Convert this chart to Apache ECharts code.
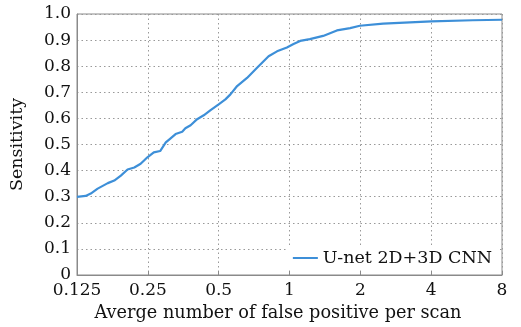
<!DOCTYPE html>
<html>
<head>
<meta charset="UTF-8">
<script src="https://cdn.jsdelivr.net/npm/echarts@6/dist/echarts.min.js"></script>
<style>
html,body{margin:0;padding:0;background:#fff;}
#chart{width:521px;height:327px;}
</style>
</head>
<body>
<div id="chart"></div>
<script>
// false positives per scan (log2 axis) and sensitivity
var fpPerScan = [0.125,0.136,0.143,0.153,0.169,0.180,0.192,0.205,0.219,0.233,0.249,0.265,0.282,0.298,0.307,0.328,0.350,0.361,0.380,0.405,0.432,0.462,0.500,0.534,0.561,0.599,0.660,0.728,0.776,0.815,0.885,0.975,1.04,1.11,1.22,1.39,1.59,1.81,1.99,2.50,3.25,4.01,6.01,8];
var sensitivity = [0.299,0.303,0.312,0.331,0.352,0.362,0.381,0.404,0.412,0.426,0.451,0.470,0.475,0.508,0.518,0.540,0.549,0.562,0.574,0.597,0.612,0.632,0.654,0.673,0.692,0.724,0.755,0.794,0.819,0.838,0.857,0.872,0.885,0.897,0.904,0.916,0.937,0.946,0.955,0.963,0.968,0.972,0.976,0.978];
var xTicks = ['0.125','0.25','0.5','1','2','4','8'];
var seriesName = 'U-net 2D+3D CNN';

var font = 'DejaVu Serif';
var points = [];
for (var i = 0; i < fpPerScan.length; i++) {
	points.push([fpPerScan[i], sensitivity[i]]);
}

var chart = echarts.init(document.getElementById('chart'));
chart.setOption({
	animation: false,
	grid: {
		left: 76, right: 19, top: 14, bottom: 50,
		show: true, borderColor: '#8a8a8a', borderWidth: 1
	},
	legend: {
		data: [seriesName],
		right: 23, bottom: 57,
		backgroundColor: '#fff',
		padding: [3, 6, 3, 4],
		itemWidth: 25, itemHeight: 2, itemGap: 2,
		textStyle: {fontFamily: font, fontSize: 17.5, color: '#111'}
	},
	xAxis: {
		type: 'log', logBase: 2, min: 0.125, max: 8,
		name: 'Averge number of false positive per scan',
		nameLocation: 'middle', nameGap: 29,
		nameTextStyle: {fontFamily: font, fontSize: 17.7, color: '#111', padding: [0, 23, 0, 0]},
		axisLine: {show: true, lineStyle: {color: '#8a8a8a'}},
		axisTick: {show: true, inside: true, length: 4, lineStyle: {color: '#8a8a8a'}},
		axisLabel: {
			fontFamily: font, fontSize: 17, color: '#111', margin: 7,
			formatter: function (v) {
				var k = Math.round(Math.log(v) / Math.log(2)) + 3;
				return xTicks[k] || '';
			}
		},
		splitLine: {show: true, lineStyle: {type: [1.5, 3], color: '#999'}}
	},
	yAxis: {
		type: 'value', min: 0, max: 1, interval: 0.1,
		name: 'Sensitivity',
		nameLocation: 'middle', nameGap: 51,
		nameTextStyle: {fontFamily: font, fontSize: 17.5, color: '#111'},
		axisLine: {show: true, lineStyle: {color: '#8a8a8a'}},
		axisTick: {show: false},
		axisLabel: {
			fontFamily: font, fontSize: 17, color: '#111', margin: 6,
			formatter: function (v) {
				return v === 0 ? '0' : v.toFixed(1);
			}
		},
		splitLine: {show: true, lineStyle: {type: [1.5, 3], color: '#999'}}
	},
	series: [{
		name: seriesName,
		type: 'line',
		data: points,
		symbol: 'none',
		lineStyle: {color: '#3d8fd8', width: 2.2},
		itemStyle: {color: '#3d8fd8'}
	}]
});
</script>
</body>
</html>
